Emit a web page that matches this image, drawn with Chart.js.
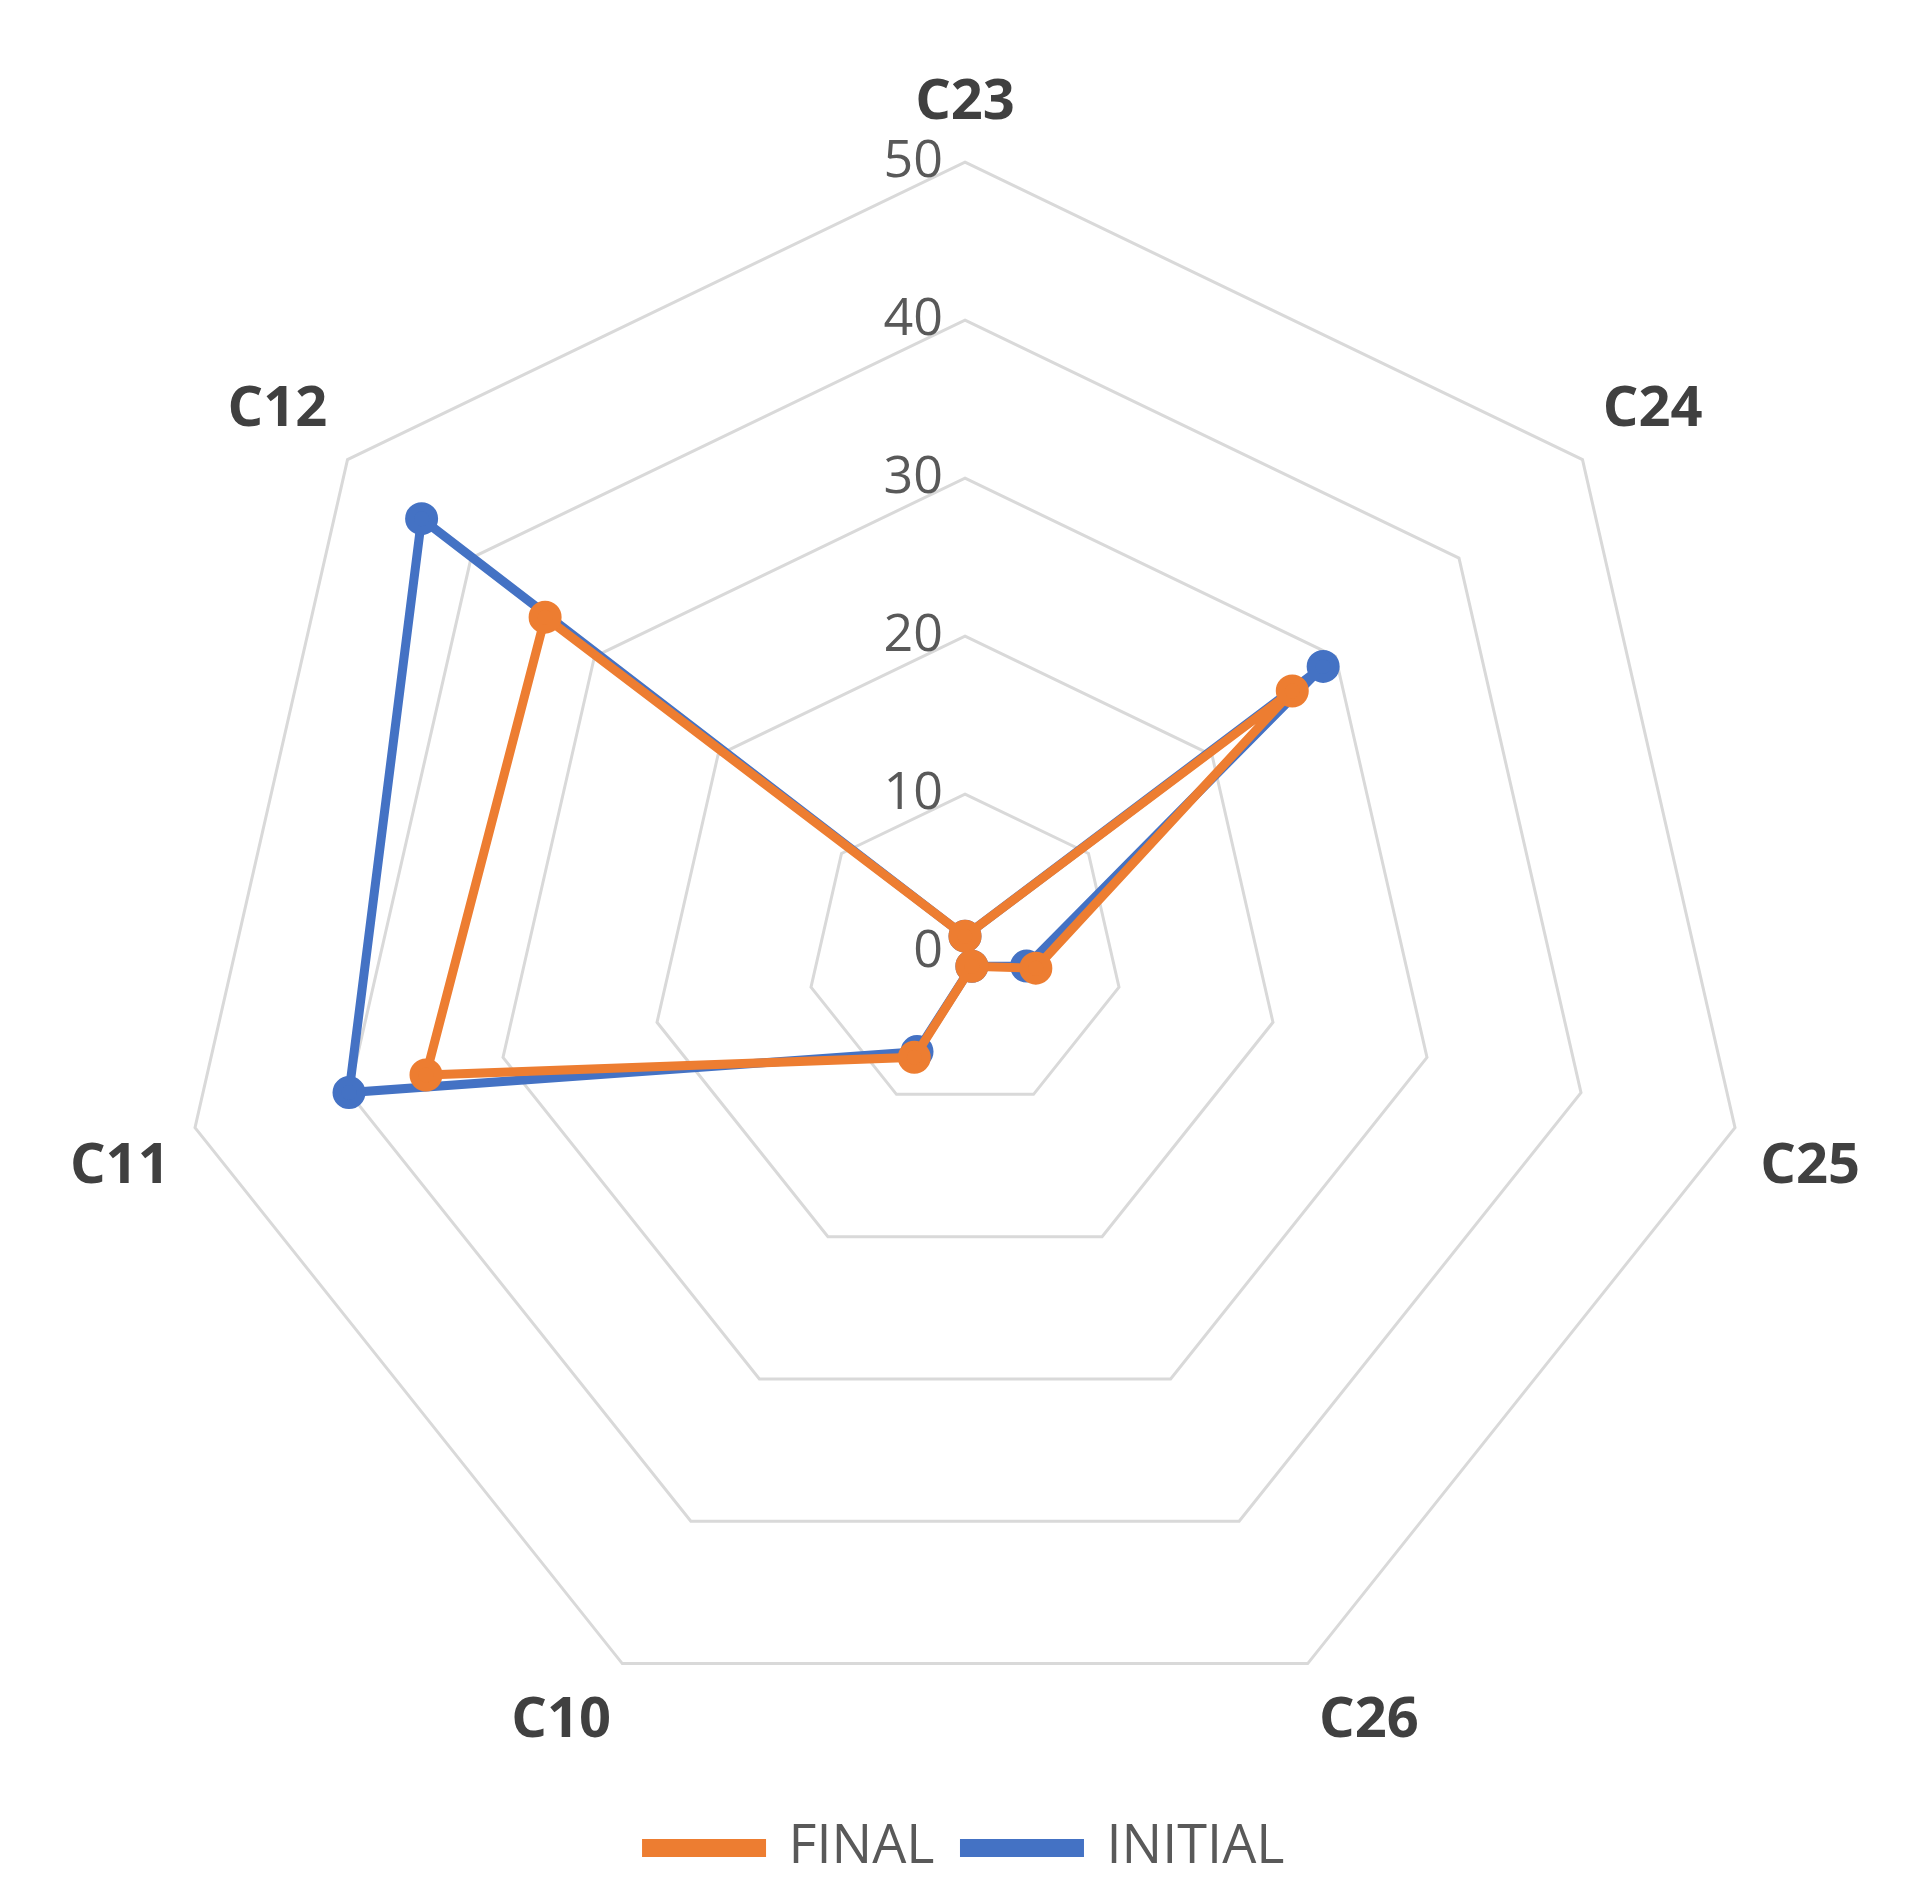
<!DOCTYPE html>
<html><head><meta charset="utf-8">
<script src="https://cdn.jsdelivr.net/npm/chart.js@4"></script>
<style>html,body{margin:0;padding:0;background:#fff}#w{width:1931px;height:1895px}</style>
</head><body><div id="w"><canvas id="c"></canvas></div>
<script>
const categories = ["C23","C24","C25","C26","C10","C11","C12"];
const initialValues = [1, 29, 4, 1, 7, 40, 44];
const finalValues = [1, 26.5, 4.6, 1, 7.4, 35, 34];
const tickValues = [0,10,20,30,40,50];

const tickPlugin = {
  id:'ticksLeft',
  afterDatasetsDraw(chart){
    const s = chart.scales.r, ctx = chart.ctx;
    ctx.save();
    ctx.font = '52px "Open Sans", Calibri, sans-serif';
    ctx.fillStyle = '#595959';
    ctx.textAlign = 'right'; ctx.textBaseline = 'middle';
    tickValues.forEach(v=>{
      const d = s.getDistanceFromCenterForValue(v);
      ctx.fillText(String(v), s.xCenter - 22, s.yCenter - d);
    });
    ctx.restore();
  }
};

new Chart(document.getElementById('c'), {
  type:'radar',
  data:{labels:categories, datasets:[
    {label:'INITIAL', data:initialValues, borderColor:'#4472C4', backgroundColor:'#4472C4', borderWidth:9, pointRadius:12, fill:false, order:2},
    {label:'FINAL', data:finalValues, borderColor:'#ED7D31', backgroundColor:'#ED7D31', borderWidth:9, pointRadius:12, fill:false, order:1}
  ]},
  options:{
    responsive:true, maintainAspectRatio:false, animation:false,
    layout:{padding:{top:25,bottom:10,left:10,right:10}},
    plugins:{
      legend:{position:'bottom', labels:{font:{size:54,family:'"Open Sans", Calibri, sans-serif'}, color:'#595959', boxWidth:115, boxHeight:9, padding:30}},
      tooltip:{enabled:false}
    },
    scales:{r:{
      min:0,max:50,
      ticks:{stepSize:10, display:false},
      grid:{color:'#d9d9d9', lineWidth:3},
      angleLines:{display:false},
      pointLabels:{font:{size:56,weight:'bold',family:'"Open Sans", Calibri, sans-serif'}, color:'#404040', padding:26}
    }}
  },
  plugins:[tickPlugin]
});
</script></body></html>
